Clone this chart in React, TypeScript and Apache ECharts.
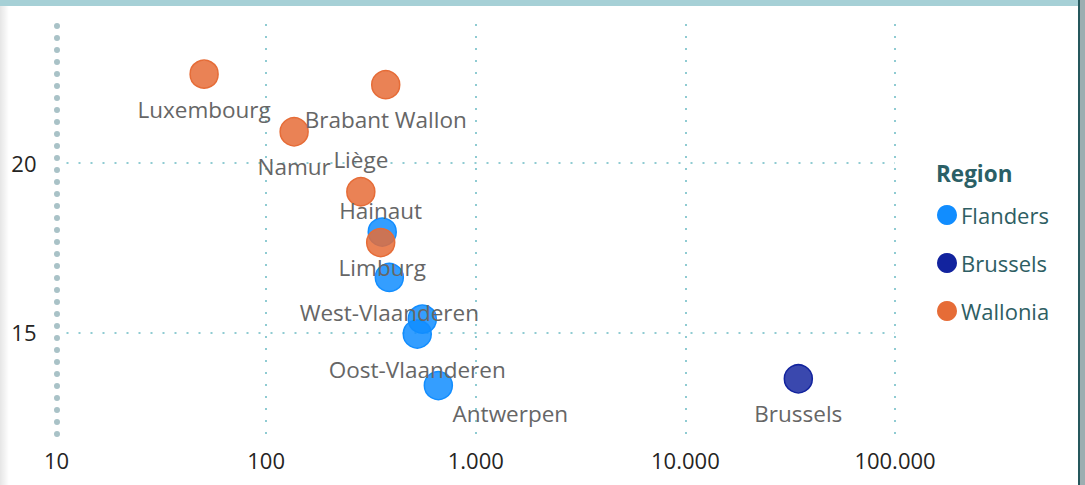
import React, { useEffect, useRef } from 'react';
import * as echarts from 'echarts';

const regions = ['Flanders', 'Brussels', 'Wallonia'];
const regionLine = ['#118DFF', '#12239E', '#E66C37'];
const regionFill = ['rgba(17,141,255,0.85)', 'rgba(18,35,158,0.83)', 'rgba(230,108,55,0.85)'];

const flandersNames = ['Limburg', 'West-Vlaanderen', 'Vlaams-Brabant', 'Oost-Vlaanderen', 'Antwerpen'];
const flandersX = [358, 387, 556, 526, 663];
const flandersY = [17.96, 16.62, 15.39, 14.95, 13.43];
const flandersLabel = ['bottom', 'bottom', 'none', 'bottom', 'rightBottom'];

const brusselsNames = ['Brussels'];
const brusselsX = [34580];
const brusselsY = [13.63];
const brusselsLabel = ['bottom'];

const walloniaNames = ['Luxembourg', 'Brabant Wallon', 'Namur', 'Liège', 'Hainaut'];
const walloniaX = [50.6, 372, 136, 283, 352];
const walloniaY = [22.62, 22.31, 20.92, 19.15, 17.65];
const walloniaLabel = ['bottom', 'bottom', 'bottom', 'top', 'top'];

const yTickValues = [15, 20];

const FONT = "'Segoe UI', 'Open Sans', sans-serif";

const labelOffsets: Record<string, number[]> = {
  bottom: [0, 35],
  top: [0, -32],
  rightBottom: [72, 28],
};

function buildData(names: string[], xs: number[], ys: number[], placement: string[]) {
  return names.map((n, i) => {
    const p = placement[i];
    return {
      name: n,
      value: [xs[i], ys[i]],
      label: p === 'none'
        ? { show: false }
        : { show: true, position: 'inside', offset: labelOffsets[p] },
    };
  });
}

function fmtThousands(v: number) {
  return String(Math.round(v)).replace(/\B(?=(\d{3})+(?!\d))/g, '.');
}

export default function App() {
  const ref = useRef<HTMLDivElement>(null);
  useEffect(() => {
    if (!ref.current) return;
    const chart = echarts.init(ref.current, undefined, { renderer: 'svg' });
    const datasets = [
      buildData(flandersNames, flandersX, flandersY, flandersLabel),
      buildData(brusselsNames, brusselsX, brusselsY, brusselsLabel),
      buildData(walloniaNames, walloniaX, walloniaY, walloniaLabel),
    ];
    chart.setOption({
      animation: false,
      backgroundColor: '#ffffff',
      textStyle: { fontFamily: FONT },
      grid: { left: 56.5, right: 190, top: 24, bottom: 51 },
      title: {
        text: 'Region',
        left: 936,
        top: 162,
        padding: 0,
        textStyle: { fontFamily: FONT, fontSize: 22.5, fontWeight: 'bold', color: '#2B5F66' },
      },
      legend: {
        orient: 'vertical',
        left: 937,
        top: 204,
        padding: 0,
        icon: 'circle',
        itemWidth: 20,
        itemHeight: 20,
        itemGap: 26,
        selectedMode: false,
        textStyle: { fontFamily: FONT, fontSize: 22, color: '#2E5E63', lineHeight: 20, padding: [0, 0, 0, -1] },
        data: regions.map((r, i) => ({ name: r, itemStyle: { color: regionLine[i], borderWidth: 0, opacity: 1 } })),
      },
      xAxis: {
        type: 'log',
        logBase: 10,
        min: 10,
        max: 100000,
        axisLine: { show: false },
        axisTick: { show: false },
        axisLabel: {
          fontFamily: FONT,
          fontSize: 22,
          color: '#252423',
          margin: 15,
          formatter: (v: number) => fmtThousands(v),
        },
        splitLine: { show: true, lineStyle: { color: '#8FCBD2', width: 2, type: [2, 10] } },
      },
      yAxis: {
        type: 'value',
        min: 12,
        max: 24.1,
        axisLine: {
          show: true,
          lineStyle: { color: '#A9C2C7', width: 6, type: [0.1, 11.9], cap: 'round' },
        },
        axisTick: { show: false, customValues: yTickValues },
        axisLabel: {
          fontFamily: FONT,
          fontSize: 22,
          color: '#252423',
          margin: 20,
          customValues: yTickValues,
        },
        splitLine: { show: true, lineStyle: { color: '#8FCBD2', width: 2, type: [2, 10], dashOffset: -10 } },
      },
      graphic: [
        { type: 'rect', left: 0, top: 0, shape: { width: 1085, height: 6 }, style: { fill: '#A6D0D6' }, z: 100 },
        { type: 'rect', left: 1078, top: 0, shape: { width: 2, height: 485 }, style: { fill: '#25575C' }, z: 101 },
        { type: 'rect', left: 1080, top: 0, shape: { width: 5, height: 485 }, style: { fill: '#9CAEB1' }, z: 101 },
        {
          type: 'rect', left: 0, top: 0, shape: { width: 9, height: 485 }, z: 99,
          style: {
            fill: new echarts.graphic.LinearGradient(0, 0, 1, 0, [
              { offset: 0, color: 'rgba(0,0,0,0.10)' },
              { offset: 1, color: 'rgba(0,0,0,0)' },
            ]),
          },
        },
      ],
      series: regions.map((r, i) => ({
        name: r,
        type: 'scatter',
        symbol: 'circle',
        symbolSize: 28,
        z: 2 + i,
        itemStyle: { color: regionFill[i], borderColor: regionLine[i], borderWidth: 1.5, opacity: 1 },
        label: { fontFamily: FONT, fontSize: 22.5, color: '#666666', formatter: '{b}' },
        emphasis: { disabled: true },
        data: datasets[i],
      })),
    });
    return () => chart.dispose();
  }, []);
  return (
    <div
      ref={ref}
      style={{ position: 'fixed', left: 0, top: 0, width: 1085, height: 485 }}
    />
  );
}
